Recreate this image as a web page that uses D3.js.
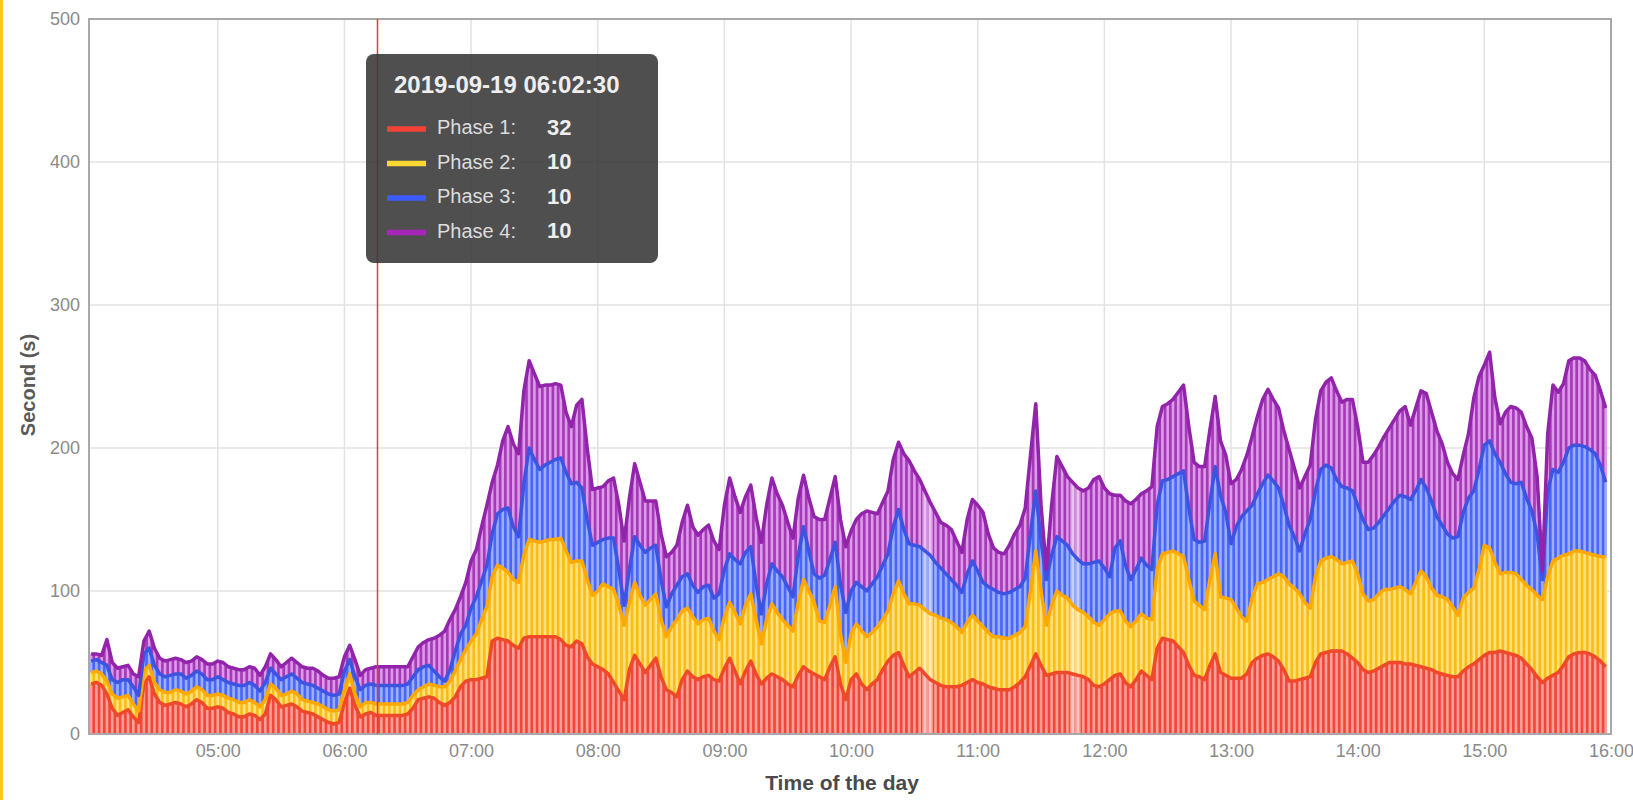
<!DOCTYPE html>
<html><head><meta charset="utf-8">
<script src="https://cdn.jsdelivr.net/npm/d3@7"></script>
<style>
html,body{margin:0;padding:0;background:#fff;}
svg{display:block;}
</style></head>
<body><svg id="chart" width="1633" height="800"></svg>
<script>
// ---------------- DATA ----------------
const seriesNames = ["Phase 1", "Phase 2", "Phase 3", "Phase 4"];
const dayStr = "2019-09-19";
const firstBarTime = "04:00:00";   // bars every 2.5 minutes
const barStepSeconds = 150;
const domainStart = "03:59:00";
const domainEnd = "16:00:00";
const xTickLabels = ["05:00","06:00","07:00","08:00","09:00","10:00","11:00","12:00","13:00","14:00","15:00","16:00"];
const yTickValues = [0, 100, 200, 300, 400, 500];
const xTitle = "Time of the day";
const yTitle = "Second (s)";
const cursorTime = "06:15:40";
const tooltipTitle = "2019-09-19 06:02:30";
const tooltipValues = [32, 10, 10, 10];
const paleBars = [158, 159, 186, 187];

const phase1 = [
 35,36,34,28,18,13,15,17,12,8,
 35,40,28,22,20,21,22,21,19,21,
 24,22,18,18,19,18,15,14,12,12,
 14,13,10,14,27,24,19,20,21,19,
 16,15,14,12,10,8,7,8,22,32,
 20,12,14,15,13,13,13,13,13,13,
 14,18,24,25,26,25,22,20,22,26,
 33,37,38,38,39,40,65,67,66,65,
 62,60,67,68,68,68,68,68,68,66,
 62,61,65,63,54,49,47,45,42,36,
 30,24,45,55,49,43,48,53,40,31,
 29,26,38,44,40,38,40,41,38,37,
 46,53,44,35,44,51,42,35,39,42,
 40,38,35,33,41,47,44,42,40,38,
 47,54,35,24,38,42,35,31,35,38,
 45,51,55,57,48,40,43,46,42,38,
 36,34,33,33,33,34,36,38,36,35,
 33,32,31,31,31,33,36,40,48,56,
 48,41,42,43,43,43,42,41,40,38,
 34,33,35,38,41,42,36,33,38,44,
 41,38,60,67,66,65,61,57,48,41,
 40,38,48,56,43,41,39,39,39,42,
 50,53,55,56,54,51,45,37,37,38,
 39,40,50,56,57,58,58,58,56,53,
 50,45,43,44,46,48,50,50,50,49,
 49,48,47,46,45,43,42,41,40,40,
 44,47,49,52,55,57,57,58,57,56,
 55,53,49,45,40,36,39,41,43,48,
 54,56,57,57,56,54,51,47
];
const phase2 = [
 8,8,8,9,10,12,11,10,9,8,
 9,8,8,9,9,8,9,9,9,9,
 9,9,9,9,9,9,10,10,10,10,
 10,9,9,10,8,8,8,8,9,9,
 8,8,8,9,9,9,9,9,9,10,
 8,7,8,7,8,8,8,8,8,8,
 8,9,7,8,9,9,11,13,15,18,
 19,22,27,32,41,49,45,51,50,48,
 46,46,58,68,67,66,67,68,68,71,
 66,59,56,58,54,48,53,60,61,65,
 60,52,47,51,48,47,46,45,40,37,
 46,54,48,44,42,39,40,40,34,29,
 36,39,41,42,46,47,38,28,41,49,
 45,42,41,39,51,61,56,50,39,40,
 43,49,35,26,32,35,37,37,36,37,
 35,35,43,50,50,51,48,44,45,46,
 47,47,47,45,42,37,42,45,43,40,
 38,36,37,36,36,36,35,35,52,72,
 52,35,48,57,54,52,48,46,45,44,
 44,43,45,46,45,44,43,42,41,40,
 40,42,55,59,61,63,65,67,60,52,
 50,49,60,70,53,54,55,49,43,37,
 45,52,51,52,56,61,65,68,65,60,
 53,48,60,65,66,66,64,61,64,68,
 62,53,50,50,52,53,51,52,53,52,
 49,58,67,64,57,54,54,53,49,43,
 51,52,53,63,77,73,63,54,56,57,
 57,55,55,56,57,58,71,80,80,77,
 72,72,71,70,70,71,73,77
];
const phase3 = [
 8,8,8,11,10,11,12,11,12,11,
 12,12,12,11,11,12,11,12,11,11,
 11,11,11,11,12,11,11,11,12,12,
 12,12,11,12,11,10,11,12,12,11,
 12,12,12,11,11,11,11,11,13,10,
 12,12,12,13,13,13,13,13,13,13,
 13,13,14,14,13,10,7,4,8,14,
 18,17,23,26,27,29,30,36,41,45,
 37,32,50,64,57,51,53,54,56,56,
 55,55,55,51,42,35,34,31,34,36,
 25,14,23,32,35,37,36,34,28,21,
 23,24,24,24,22,22,23,23,23,32,
 33,34,37,42,37,33,25,21,25,28,
 29,30,27,24,33,37,28,20,30,33,
 32,31,35,35,30,29,31,32,34,35,
 38,40,47,50,45,42,41,41,41,41,
 37,35,32,30,29,28,34,38,35,31,
 32,33,31,31,32,32,32,34,40,42,
 35,32,35,38,38,37,36,35,34,37,
 42,45,36,26,44,49,39,33,36,39,
 37,35,45,51,51,52,56,60,50,43,
 44,48,54,61,71,60,39,57,70,77,
 65,63,69,73,67,60,50,41,36,30,
 48,62,60,64,65,62,56,54,52,49,
 48,52,50,50,50,52,57,61,64,65,
 66,64,64,62,61,55,50,46,48,55,
 60,66,68,70,70,75,76,78,69,63,
 63,68,61,55,43,14,60,64,60,65,
 74,74,74,74,73,71,64,52
];
const phase4 = [
 5,4,5,18,12,10,9,10,9,13,
 9,12,12,11,11,11,11,10,11,10,
 10,10,11,11,11,12,11,11,11,11,
 11,12,11,11,10,10,9,10,11,11,
 11,11,12,12,11,11,12,12,10,10,
 12,10,11,11,13,13,13,13,13,13,
 12,14,16,17,18,23,29,35,35,29,
 26,30,33,33,38,42,36,34,48,57,
 58,58,65,61,60,58,56,54,53,51,
 42,40,54,62,50,39,38,37,40,42,
 45,45,50,51,44,36,33,31,32,35,
 29,28,38,48,41,40,40,42,40,31,
 45,53,44,36,39,43,47,50,55,60,
 54,50,45,41,40,36,37,40,41,39,
 43,46,45,46,42,44,51,56,50,44,
 44,44,47,47,53,58,52,47,42,37,
 35,32,34,35,31,28,38,43,46,49,
 37,29,28,28,33,39,43,49,55,61,
 25,7,35,56,52,48,50,50,51,53,
 58,59,56,58,37,32,45,53,49,45,
 52,58,55,52,53,54,57,60,57,54,
 53,52,51,49,38,40,42,33,33,39,
 48,54,59,60,57,56,52,53,48,44,
 40,38,50,55,58,63,62,59,62,64,
 55,40,47,51,53,55,56,57,59,63,
 52,58,62,66,62,60,57,50,45,40,
 40,45,65,65,56,62,39,27,43,53,
 53,49,50,51,40,6,40,59,56,55,
 61,61,61,60,56,55,52,52
];

// ---------------- STYLE ----------------
const areaColors   = ["#f1473a", "#fbbc16", "#4866fb", "#a53ab8"];
const stripeColors = ["#ffa098", "#ffe27f", "#9cafff", "#dd9ae8"];
const lineColors   = ["#ee4a2a", "#ffa800", "#3d54e0", "#9224ab"];
const swatchColors = ["#f44336", "#fdd835", "#3d5afe", "#a626b7"];
const font = "'Liberation Sans', Arial, sans-serif";

const W = 1633, H = 800;
const margin = {left: 89, right: 1611, top: 19, bottom: 734};

const parse = d3.timeParse("%Y-%m-%d %H:%M:%S");
const t0 = parse(dayStr + " " + firstBarTime);
const times = phase1.map((_, i) => new Date(t0.getTime() + i * barStepSeconds * 1000));
const rows = times.map((t, i) => ({t, p1: phase1[i], p2: phase2[i], p3: phase3[i], p4: phase4[i]}));
const keys = ["p1", "p2", "p3", "p4"];

const x = d3.scaleTime()
  .domain([parse(dayStr + " " + domainStart), parse(dayStr + " " + domainEnd)])
  .range([margin.left, margin.right]);
const y = d3.scaleLinear().domain([0, 500]).range([margin.bottom, margin.top]);

const stacked = d3.stack().keys(keys)(rows);

const svg = d3.select("#chart");
svg.append("rect").attr("width", W).attr("height", H).attr("fill", "#fff");
svg.append("rect").attr("x", 0).attr("y", 0).attr("width", 3).attr("height", H).attr("fill", "#f8c81a");

// gridlines
const hourDates = xTickLabels.map(s => parse(dayStr + " " + s + ":00"));
const grid = svg.append("g");
grid.selectAll("line.v").data(hourDates).join("line")
  .attr("x1", d => x(d)).attr("x2", d => x(d))
  .attr("y1", margin.top).attr("y2", margin.bottom)
  .attr("stroke", "#e2e2e2").attr("stroke-width", 1.5);
grid.selectAll("line.h").data(yTickValues.slice(1, -1)).join("line")
  .attr("x1", margin.left).attr("x2", margin.right)
  .attr("y1", d => y(d)).attr("y2", d => y(d))
  .attr("stroke", "#e2e2e2").attr("stroke-width", 1.5);

// areas
const area = d3.area().x(d => x(d.data.t)).y0(d => y(d[0])).y1(d => y(d[1]));
svg.append("g").selectAll("path").data(stacked).join("path")
  .attr("d", area).attr("fill", (d, i) => areaColors[i]);

// light bar stripes
const sw = 2.6;
const stripes = svg.append("g");
stacked.forEach((layer, li) => {
  stripes.append("g").selectAll("rect").data(layer).join("rect")
    .attr("x", d => x(d.data.t) - sw / 2)
    .attr("width", sw)
    .attr("y", d => y(d[1]))
    .attr("height", d => Math.max(0, y(d[0]) - y(d[1])))
    .attr("fill", stripeColors[li]);
});

// pale (highlighted) bars
svg.append("g").selectAll("rect").data(paleBars).join("rect")
  .attr("x", i => x(times[i]) - 2.8)
  .attr("width", 5.6)
  .attr("y", i => y(stacked[3][i][1]))
  .attr("height", i => y(0) - y(stacked[3][i][1]))
  .attr("fill", "#fff").attr("opacity", 0.4);

// layer lines
const line = d3.line().x(d => x(d.data.t)).y(d => y(d[1]));
svg.append("g").selectAll("path").data(stacked).join("path")
  .attr("d", line).attr("fill", "none")
  .attr("stroke", (d, i) => lineColors[i])
  .attr("stroke-width", 3.5).attr("stroke-linejoin", "round");

// frame
svg.append("rect").attr("x", margin.left).attr("y", margin.top)
  .attr("width", margin.right - margin.left).attr("height", margin.bottom - margin.top)
  .attr("fill", "none").attr("stroke", "#a8a8a8").attr("stroke-width", 2);

// axes
const xAxis = d3.axisBottom(x).tickValues(hourDates).tickFormat(d3.timeFormat("%H:%M")).tickSize(0).tickPadding(10);
const gx = svg.append("g").attr("transform", `translate(0,${margin.bottom})`).call(xAxis);
gx.select(".domain").remove();
gx.selectAll("text").attr("font-family", font).attr("font-size", 18).attr("fill", "#8a8a8a");

const yAxis = d3.axisLeft(y).tickValues(yTickValues).tickSize(0).tickPadding(9);
const gy = svg.append("g").attr("transform", `translate(${margin.left},0)`).call(yAxis);
gy.select(".domain").remove();
gy.selectAll("text").attr("font-family", font).attr("font-size", 18).attr("fill", "#8a8a8a");

svg.append("text").attr("x", 842).attr("y", 790).attr("text-anchor", "middle")
  .attr("font-family", font).attr("font-size", 21).attr("font-weight", 600).attr("fill", "#4a4a4a")
  .text(xTitle);
svg.append("text").attr("transform", "translate(35,385) rotate(-90)").attr("text-anchor", "middle")
  .attr("font-family", font).attr("font-size", 20).attr("font-weight", 600).attr("fill", "#5a5a5a")
  .text(yTitle);

// cursor line
const cx = x(parse(dayStr + " " + cursorTime));
svg.append("line").attr("x1", cx).attr("x2", cx).attr("y1", margin.top).attr("y2", margin.bottom)
  .attr("stroke", "#e53935").attr("stroke-width", 1.5);

// tooltip
const tip = svg.append("g");
tip.append("rect").attr("x", 366).attr("y", 54).attr("width", 292).attr("height", 209)
  .attr("rx", 8).attr("fill", "#3c3c3c").attr("opacity", 0.9);
tip.append("text").attr("x", 394).attr("y", 87).attr("dominant-baseline", "middle")
  .attr("font-family", font).attr("font-size", 24).attr("font-weight", 700).attr("fill", "#eeeeee")
  .text(tooltipTitle);
const rowY = [129, 163.5, 198, 232.5];
seriesNames.forEach((name, i) => {
  tip.append("line").attr("x1", 387).attr("x2", 426).attr("y1", rowY[i]).attr("y2", rowY[i])
    .attr("stroke", swatchColors[i]).attr("stroke-width", 5.5);
  tip.append("text").attr("x", 437).attr("y", rowY[i]).attr("dominant-baseline", "middle")
    .attr("font-family", font).attr("font-size", 20).attr("fill", "#dddddd").text(name + ":");
  tip.append("text").attr("x", 547).attr("y", rowY[i]).attr("dominant-baseline", "middle")
    .attr("font-family", font).attr("font-size", 22).attr("font-weight", 700).attr("fill", "#eeeeee")
    .text(tooltipValues[i]);
});
</script>
</body></html>
